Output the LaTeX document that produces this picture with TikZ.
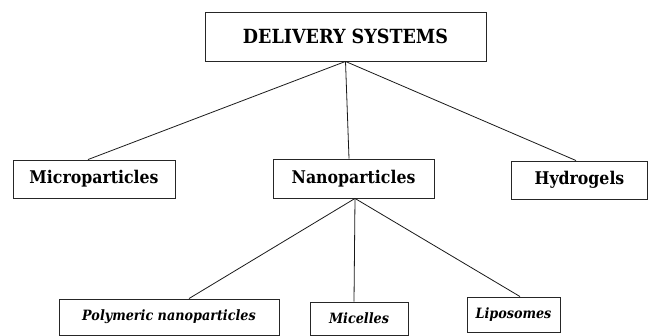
\documentclass[tikz,border=0pt]{standalone}
\usepackage{fontspec}
\setmainfont{DejaVu Serif Condensed}
\begin{document}
\begin{tikzpicture}[x=1pt,y=-1pt,
  box/.style={draw=black!85,line width=0.9pt,inner sep=0pt,align=center},
  mainbox/.style={box,font=\fontsize{17.5}{20}\selectfont\bfseries},
  topbox/.style={box,font=\fontsize{19.5}{23}\selectfont\bfseries},
  subbox/.style={box,font=\fontsize{14.2}{17}\selectfont\bfseries\itshape},
  link/.style={draw=black!90,line width=0.8pt}]
\useasboundingbox (0,0) rectangle (650,336);
\node[topbox,minimum width=281pt,minimum height=49pt] (top) at (345.5,36.5) {DELIVERY SYSTEMS};
\node[mainbox,minimum width=162pt,minimum height=38pt] (micro) at (94,179) {Microparticles};
\node[mainbox,minimum width=161pt,minimum height=39pt] (nano) at (353.5,178.5) {Nanoparticles};
\node[mainbox,minimum width=136pt,minimum height=38pt] (hydro) at (579.5,180) {Hydrogels};
\node[subbox,minimum width=220pt,minimum height=36pt] (poly) at (169,317) {Polymeric nanoparticles};
\node[subbox,minimum width=98pt,minimum height=33pt] (mic) at (359,318.5) {Micelles};
\node[subbox,minimum width=93pt,minimum height=35pt] (lipo) at (513.5,314.5) {Liposomes};
\draw[link] (top.south) -- ([xshift=-6pt]micro.north);
\draw[link] (top.south) -- ([xshift=-4.5pt]nano.north);
\draw[link] (top.south) -- ([xshift=-3.5pt]hydro.north);
\draw[link] ([xshift=1.5pt]nano.south) -- ([xshift=20pt]poly.north);
\draw[link] ([xshift=1.5pt]nano.south) -- ([xshift=-5pt]mic.north);
\draw[link] ([xshift=1.5pt]nano.south) -- ([xshift=6.5pt]lipo.north);
\end{tikzpicture}
\end{document}
